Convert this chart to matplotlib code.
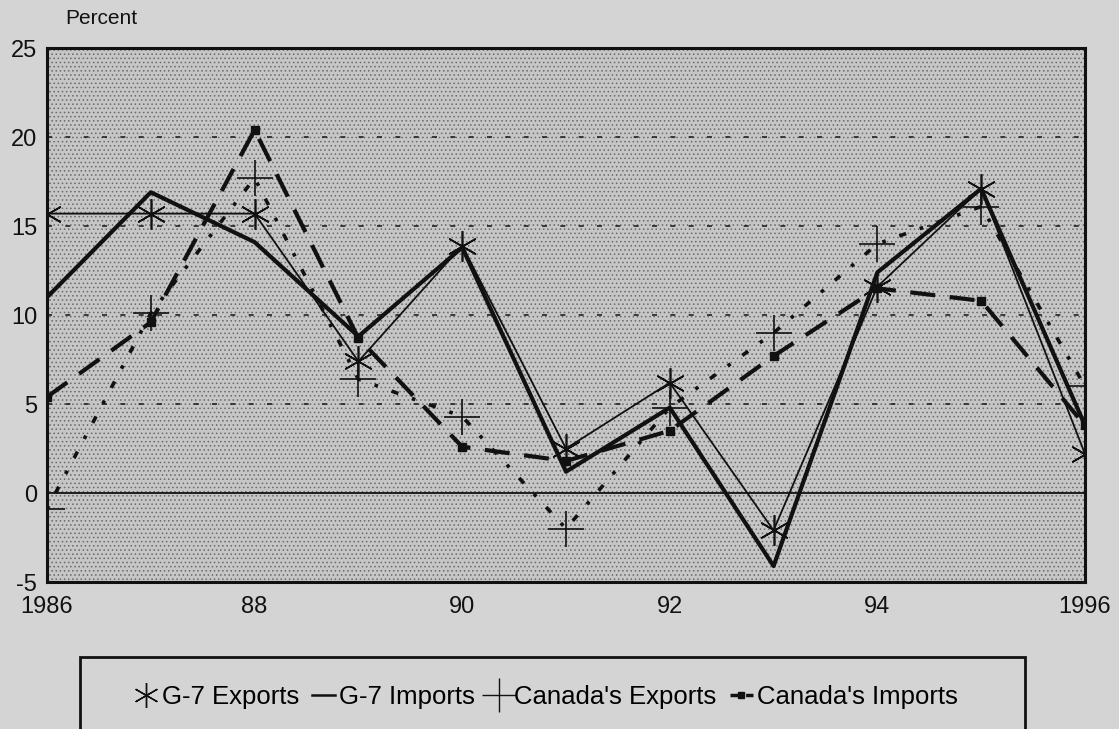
import numpy as np
import matplotlib
matplotlib.use("Agg")
import matplotlib.pyplot as plt
from matplotlib.patches import Rectangle

plt.rcParams['font.family'] = ['Liberation Sans', 'DejaVu Sans']
plt.rcParams['axes.unicode_minus'] = False

years = [1986, 1987, 1988, 1989, 1990, 1991, 1992, 1993, 1994, 1995, 1996]
g7_exports = [15.7, 15.7, 15.7, 7.4, 13.9, 2.5, 6.2, -2.1, 11.6, 17.1, 2.2]
g7_imports = [11.0, 16.9, 14.1, 8.8, 13.8, 1.2, 4.8, -4.1, 12.4, 17.1, 3.8]
can_exports = [-0.9, 10.1, 17.7, 6.4, 4.3, -2.0, 4.8, 9.0, 14.0, 16.1, 6.0]
can_imports = [5.4, 9.6, 20.4, 8.7, 2.6, 1.8, 3.5, 7.7, 11.5, 10.8, 3.8]

xticks = [1986, 1988, 1990, 1992, 1994, 1996]
xlabels = ["1986", "88", "90", "92", "94", "1996"]
yticks = [-5, 0, 5, 10, 15, 20, 25]

bg = '#d4d4d4'
fig = plt.figure(figsize=(11.19, 7.29), dpi=100, facecolor=bg)
ax = fig.add_axes([0.042, 0.2016, 0.9276, 0.7324])
ax.set_facecolor('#c6c6c6')
plt.rcParams['hatch.color'] = '#5a5a5a'
plt.rcParams['hatch.linewidth'] = 0.6
ax.add_patch(Rectangle((0, 0), 1, 1, transform=ax.transAxes, facecolor='none',
                       hatch='....', edgecolor='#6a6a6a', linewidth=0, zorder=0))

ax.set_xlim(1986, 1996)
ax.set_ylim(-5, 25)

for g in [5, 10, 15, 20]:
    ax.axhline(g, color='#222222', linewidth=1.2, linestyle=(0, (3, 8)), zorder=1)
ax.axhline(0, color='#111111', linewidth=1.3, zorder=1)

ax.plot(years, g7_imports, color='#111111', linewidth=3.0, zorder=3)
ax.plot(years, g7_exports, color='#111111', linewidth=1.3, marker=(6, 2, 0),
        markersize=22, markeredgewidth=1.2, zorder=4)
ax.plot(years, can_exports, color='#111111', linewidth=2.6, linestyle=(0, (1, 4, 2, 4)),
        marker='+', markersize=26, markeredgewidth=1.2, zorder=4)
ax.plot(years, can_imports, color='#111111', linewidth=3.0, linestyle=(0, (6, 3.5)),
        marker='s', markersize=6, zorder=4)

ax.set_xticks(xticks)
ax.set_xticklabels(xlabels)
ax.set_yticks(yticks)
ax.tick_params(axis='both', length=0, labelsize=17, colors='#111111')
ax.tick_params(axis='y', pad=7)
ax.tick_params(axis='x', pad=10)
for s in ax.spines.values():
    s.set_linewidth(2.2)
    s.set_color('#111111')

fig.text(0.058, 0.975, "Percent", fontsize=15, color='#111111', va='center')

# legend box, cut off by the bottom edge as in the scan
fig.add_artist(Rectangle((80 / 1119, -0.05), 945 / 1119, 0.05 + (729 - 657) / 729,
                         transform=fig.transFigure, facecolor='none',
                         edgecolor='#111111', linewidth=2))
h1, = plt.plot([], [], color='#111111', linestyle='none', marker=(6, 2, 0), markersize=18)
h2, = plt.plot([], [], color='#111111', linewidth=1.8)
h3, = plt.plot([], [], color='#111111', linestyle='none', marker='+', markersize=24)
h4, = plt.plot([], [], color='#111111', linewidth=2.5, linestyle=(0, (3, 1.5)),
               marker='s', markersize=4)
fig.legend([h1, h2, h3, h4],
           ["G-7 Exports", "G-7 Imports", "Canada's Exports", "Canada's Imports"],
           loc='center', bbox_to_anchor=(0.488, 0.044), ncol=4, frameon=False,
           fontsize=18.5, handlelength=0.9, handletextpad=0.15, columnspacing=0.5)

fig.savefig("out.png", dpi=100, facecolor=bg)
